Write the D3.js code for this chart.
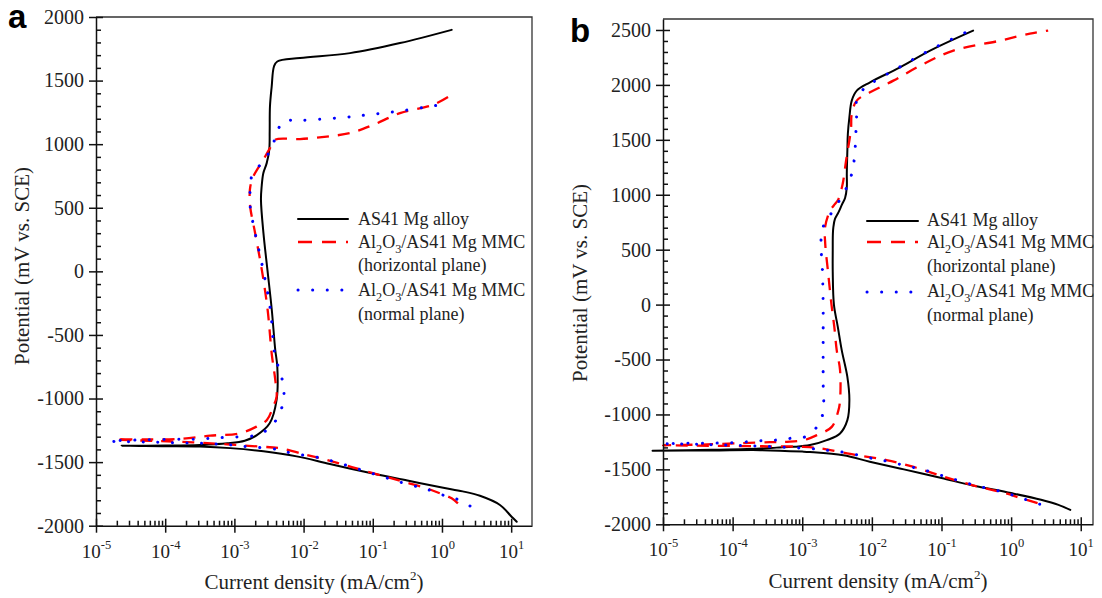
<!DOCTYPE html>
<html>
<head>
<meta charset="utf-8">
<script src="https://cdn.jsdelivr.net/npm/d3@7"></script>
<style>
  body { margin: 0; background: #fff; }
</style>
</head>
<body>
<svg id="chart" width="1102" height="598"></svg>
<script>
// values are [log10(current density, mA/cm2), potential (mV vs. SCE)]
// each series runs from the cathodic end, through Ecorr, to the anodic end

// panel a
const alloyA = [[1.08,-1969],[1.006,-1929],[0.838,-1837],[0.549,-1765],[0.3,-1730],[0.0,-1700],[-0.5,-1645],[-1.0,-1590],[-1.62,-1515],[-2.10,-1455],[-2.58,-1415],[-3.06,-1390],[-3.5,-1378],[-4.0,-1375],[-4.63,-1372],
  [-4.0,-1370],[-3.5,-1365],[-3.1,-1352],[-2.85,-1332],[-2.68,-1290],[-2.49,-1195],[-2.39,-1011],[-2.38,-749],[-2.41,-615],[-2.46,-300],[-2.52,0],[-2.58,300],[-2.616,562],[-2.606,667],[-2.582,772],[-2.533,851],[-2.496,956],[-2.49,1100],[-2.486,1296],[-2.461,1453],[-2.428,1611],[-2.38,1650],[-2.052,1677],[-1.329,1716],[-0.607,1795],[0.14,1899]];

const horizA = [[0.23,-1825],[0.14,-1785],[-0.03,-1745],[-0.22,-1706],[-0.56,-1654],[-1.0,-1586],[-1.67,-1483],[-1.955,-1444],[-2.34,-1391],[-2.63,-1378],[-3.06,-1362],[-3.6,-1345],[-4.2,-1333],[-4.72,-1322],
  [-4.3,-1321],[-3.79,-1318],[-3.35,-1292],[-2.92,-1273],[-2.68,-1221],[-2.53,-1168],[-2.44,-1064],[-2.39,-985],[-2.41,-850],[-2.46,-650],[-2.52,-300],[-2.6,0],[-2.7,300],[-2.77,500],[-2.78,600],[-2.77,667],[-2.727,745],[-2.582,877],[-2.486,969],[-2.413,1034],[-2.052,1040],[-1.666,1060],[-1.329,1087],[-0.993,1152],[-0.607,1244],[-0.125,1310],[0.163,1396]];

const normalA = [[0.405,-1845],[0.188,-1785],[-0.04,-1751],[-0.25,-1706],[-0.46,-1680],[-1.0,-1590],[-1.74,-1470],[-2.17,-1430],[-2.39,-1399],[-2.82,-1378],[-3.04,-1365],[-3.26,-1357],[-3.47,-1352],[-3.69,-1350],[-4.2,-1343],[-4.8,-1335],
  [-4.3,-1325],[-3.76,-1320],[-3.54,-1319],[-3.33,-1312],[-3.11,-1305],[-2.68,-1287],[-2.46,-1216],[-2.34,-1103],[-2.29,-1025],[-2.29,-907],[-2.34,-789],[-2.41,-671],[-2.48,-300],[-2.58,0],[-2.7,300],[-2.77,500],[-2.775,615],[-2.75,745],[-2.61,851],[-2.46,969],[-2.39,1087],[-2.29,1178],[-2.05,1186],[-1.43,1210],[-0.993,1236],[-0.559,1264],[-0.125,1301],[0.077,1315]];

// panel b
const alloyB = [[0.85,-1869],[0.68,-1823],[0.43,-1777],[0,-1716],[-0.55,-1646],[-1.0,-1579],[-1.54,-1500],[-2.03,-1430],[-2.41,-1372],[-2.89,-1342],[-3.0,-1338],[-3.6,-1325],[-4.3,-1328],[-5.15,-1330],
  [-4.3,-1322],[-3.6,-1310],[-3.37,-1302],[-3.128,-1295],[-2.888,-1279],[-2.648,-1234],[-2.457,-1173],[-2.352,-1052],[-2.323,-870],[-2.352,-658],[-2.433,-414],[-2.49,-200],[-2.545,0],[-2.562,300],[-2.562,494],[-2.56,645],[-2.553,705],[-2.53,780],[-2.48,840],[-2.43,910],[-2.385,970],[-2.36,1069],[-2.36,1191],[-2.352,1403],[-2.345,1555],[-2.323,1705],[-2.289,1857],[-2.217,1948],[-2.026,2024],[-1.595,2160],[-1.164,2312],[-0.546,2494]];

const horizB = [[0.38,-1808],[0.14,-1762],[-0.11,-1712],[-0.55,-1645],[-1.0,-1560],[-1.40,-1478],[-1.79,-1415],[-2.22,-1370],[-2.74,-1309],[-2.98,-1295],[-3.5,-1290],[-4.2,-1286],[-5.0,-1280],
  [-4.5,-1275],[-3.9,-1262],[-3.46,-1252],[-3.22,-1249],[-2.98,-1234],[-2.79,-1188],[-2.576,-1113],[-2.48,-961],[-2.457,-870],[-2.457,-597],[-2.505,-414],[-2.54,-200],[-2.58,0],[-2.63,300],[-2.67,555],[-2.672,705],[-2.60,857],[-2.55,900],[-2.48,960],[-2.43,1069],[-2.41,1130],[-2.37,1312],[-2.30,1600],[-2.289,1736],[-2.217,1857],[-2.026,1933],[-1.691,2039],[-1.307,2175],[-0.829,2312],[-0.158,2403],[0.27,2467],[0.532,2494]];

const normalB = [[0.41,-1817],[0.14,-1760],[-0.11,-1708],[-0.55,-1640],[-1.0,-1555],[-1.31,-1495],[-1.50,-1470],[-1.74,-1431],[-1.93,-1409],[-2.36,-1349],[-2.58,-1331],[-2.79,-1315],[-3.2,-1300],[-3.8,-1285],[-4.5,-1272],[-5.0,-1266],
  [-4.5,-1262],[-4.0,-1258],[-3.61,-1240],[-3.39,-1234],[-3.18,-1218],[-2.96,-1204],[-2.77,-1097],[-2.70,-976],[-2.70,-700],[-2.70,-400],[-2.70,0],[-2.71,300],[-2.73,539],[-2.72,660],[-2.65,782],[-2.625,796],[-2.48,933],[-2.36,1069],[-2.289,1191],[-2.25,1342],[-2.227,1600],[-2.217,1766],[-2.217,1873],[-2.10,1975],[-2.026,2009],[-1.595,2165],[-1.164,2318],[-0.66,2476]];

const legendLabels = ["AS41 Mg alloy", "Al_2O_3/AS41 Mg MMC", "(horizontal plane)", "Al_2O_3/AS41 Mg MMC", "(normal plane)"];
const xPowers = [-5, -4, -3, -2, -1, 0, 1];

const serif = "'Liberation Serif', 'Times New Roman', serif";
const styles = [
  { color: "#000", width: 2, dash: null, cap: "round" },
  { color: "#ff0000", width: 2.3, dash: "12,9", cap: "butt" },
  { color: "#0000ff", width: 3, dash: "0.1,14.5", cap: "round" }
];

const svg = d3.select("#chart");

function richText(sel, str, size) {
  // "_2" -> subscript 2
  const parts = str.split(/(_\d)/).filter(s => s.length);
  let shift = 0;
  parts.forEach(s => {
    if (s[0] === "_") {
      sel.append("tspan").attr("font-size", size * 0.68).attr("dy", 5 - shift).text(s.slice(1));
      shift = 5;
    } else {
      sel.append("tspan").attr("dy", -shift).text(s);
      shift = 0;
    }
  });
}

function drawPanel(p) {
  const x = d3.scaleLog().domain(p.xDomain).range([p.left, p.right]);
  const y = d3.scaleLinear().domain(p.yDomain).range([p.bottom, p.top]);
  const g = svg.append("g");

  // top / right frame
  g.append("path")
    .attr("d", `M${p.left},${p.top}H${p.right}V${p.bottom}`)
    .attr("fill", "none")
    .attr("stroke", "#333")
    .attr("stroke-width", 1.3);

  const line = d3.line()
    .x(d => x(Math.pow(10, d[0])))
    .y(d => y(d[1]))
    .curve(d3.curveCatmullRom.alpha(0.5));

  p.series.forEach((s, i) => {
    const st = styles[i];
    g.append("path").datum(s)
      .attr("d", line)
      .attr("fill", "none")
      .attr("stroke", st.color)
      .attr("stroke-width", st.width)
      .attr("stroke-dasharray", st.dash)
      .attr("stroke-linecap", st.cap)
      .attr("stroke-linejoin", "round");
  });

  // y axis
  const yMajor = d3.range(p.yDomain[0], p.yLabelMax + 1, 500);
  const yMinor = d3.range(p.yDomain[0], p.yDomain[1], 100).filter(v => v % 500 !== 0);
  const gy = g.append("g")
    .attr("transform", `translate(${p.left},0)`)
    .call(d3.axisLeft(y).tickValues(yMajor).tickFormat(d => String(d))
      .tickSizeInner(7).tickSizeOuter(0).tickPadding(5));
  gy.selectAll(".tick line").attr("x1", 7);
  gy.selectAll("text").attr("fill", "#222");
  gy.attr("font-family", serif).attr("font-size", 20);

  const gy2 = g.append("g")
    .attr("transform", `translate(${p.left},0)`)
    .call(d3.axisRight(y).tickValues(yMinor).tickSize(5).tickFormat(""));
  gy2.select(".domain").remove();

  // x axis
  const xMajor = xPowers.map(k => Math.pow(10, k));
  const xMinor = [];
  xPowers.forEach(k => d3.range(2, 10).forEach(m => {
    const v = m * Math.pow(10, k);
    if (v < p.xDomain[1]) xMinor.push(v);
  }));
  const gx = g.append("g")
    .attr("transform", `translate(0,${p.bottom})`)
    .call(d3.axisBottom(x).tickValues(xMajor).tickFormat("")
      .tickSizeInner(7).tickSizeOuter(0));
  gx.selectAll(".tick line").attr("y1", -7);
  gx.selectAll(".tick text")
    .attr("y", 32).attr("dy", 0)
    .attr("fill", "#222")
    .attr("font-family", serif)
    .attr("font-size", 19)
    .each(function(d) {
      const t = d3.select(this);
      t.append("tspan").text("10");
      t.append("tspan").attr("font-size", 12.5).attr("dy", -9)
        .text(String(Math.round(Math.log10(d))));
    });

  const gx2 = g.append("g")
    .attr("transform", `translate(0,${p.bottom})`)
    .call(d3.axisTop(x).tickValues(xMinor).tickSize(5).tickFormat(""));
  gx2.select(".domain").remove();

  g.selectAll(".domain, .tick line").attr("stroke", "#111").attr("stroke-width", 1.5);

  // titles
  g.append("text")
    .attr("x", p.letter[0]).attr("y", p.letter[1])
    .attr("font-family", "'Liberation Sans', Arial, sans-serif")
    .attr("font-weight", "bold").attr("font-size", 33)
    .text(p.name);

  g.append("text")
    .attr("transform", `translate(${p.yTitle[0]},${p.yTitle[1]}) rotate(-90)`)
    .attr("text-anchor", "middle")
    .attr("font-family", serif).attr("font-size", 21)
    .attr("fill", "#222")
    .text("Potential (mV vs. SCE)");

  const xt = g.append("text")
    .attr("x", (p.left + p.right) / 2).attr("y", p.xTitleY)
    .attr("text-anchor", "middle")
    .attr("font-family", serif).attr("font-size", 21)
    .attr("fill", "#222");
  xt.append("tspan").text("Current density (mA/cm");
  xt.append("tspan").attr("font-size", 13).attr("dy", -9).text("2");
  xt.append("tspan").attr("dy", 9).text(")");

  // legend
  const L = p.legend;
  [0, 1, 3].forEach((row, i) => {
    const st = styles[i];
    g.append("line")
      .attr("x1", L.x1).attr("x2", L.x2)
      .attr("y1", L.sampleY[i]).attr("y2", L.sampleY[i])
      .attr("stroke", st.color)
      .attr("stroke-width", st.width)
      .attr("stroke-dasharray", i === 1 ? "14,10" : st.dash)
      .attr("stroke-linecap", st.cap);
  });
  legendLabels.forEach((lab, i) => {
    const t = g.append("text")
      .attr("x", L.textX).attr("y", L.baseline[i])
      .attr("font-family", serif).attr("font-size", 18)
      .attr("fill", "#222");
    richText(t, lab, 18);
  });
}

drawPanel({
  name: "a",
  series: [alloyA, horizA, normalA],
  left: 96, right: 532, top: 17, bottom: 525.7,
  xDomain: [1e-5, 20], yDomain: [-2000, 2000], yLabelMax: 2000,
  letter: [8, 28], yTitle: [29, 266], xTitleY: 589,
  legend: { x1: 298, x2: 348, sampleY: [219, 242, 290], textX: 358, baseline: [225, 248, 271, 296, 320] }
});

drawPanel({
  name: "b",
  series: [alloyB, horizB, normalB],
  left: 663, right: 1093, top: 19, bottom: 524.3,
  xDomain: [1e-5, 15], yDomain: [-2000, 2600], yLabelMax: 2500,
  letter: [570, 42], yTitle: [587, 283], xTitleY: 588,
  legend: { x1: 867, x2: 918, sampleY: [221, 242, 292], textX: 927, baseline: [226, 248, 272, 297, 321] }
});
</script>
</body>
</html>
